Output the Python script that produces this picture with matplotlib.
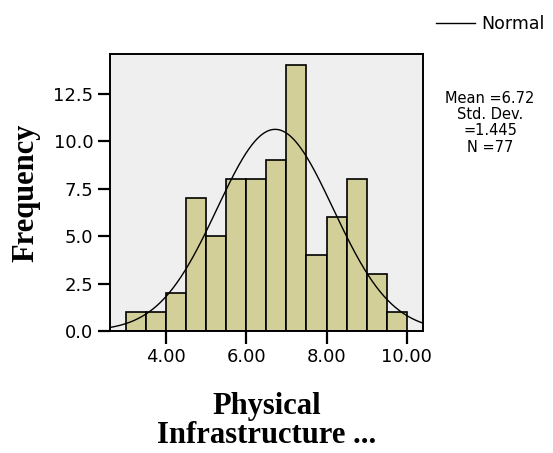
import numpy as np
import matplotlib
matplotlib.use("Agg")
import matplotlib.pyplot as plt

# Histogram data (bin left edges, width 0.5)
bin_edges = [3.0, 3.5, 4.0, 4.5, 5.0, 5.5, 6.0, 6.5, 7.0, 7.5, 8.0, 8.5, 9.0, 9.5, 10.0]
counts = [1, 1, 2, 7, 5, 8, 8, 9, 14, 4, 6, 8, 3, 1]
mean = 6.72
std = 1.445
n = 77
x_ticks = [4.0, 6.0, 8.0, 10.0]
x_tick_labels = ["4.00", "6.00", "8.00", "10.00"]
y_ticks = [0.0, 2.5, 5.0, 7.5, 10.0, 12.5]
y_tick_labels = ["0.0", "2.5", "5.0", "7.5", "10.0", "12.5"]

fig = plt.figure(figsize=(5.53, 4.53), dpi=100)
ax = fig.add_axes([110/553, 1 - 331/453, (423-110)/553, (331-54)/453])
ax.set_facecolor("#efefef")

widths = np.diff(bin_edges)
ax.bar(bin_edges[:-1], counts, width=widths, align="edge",
       color="#d3cf98", edgecolor="black", linewidth=1.2, zorder=2)

xlim = (2.61, 10.4)
xs = np.linspace(xlim[0], xlim[1], 400)
bw = bin_edges[1] - bin_edges[0]
ys = n * bw / (std * np.sqrt(2 * np.pi)) * np.exp(-0.5 * ((xs - mean) / std) ** 2)
line, = ax.plot(xs, ys, color="black", linewidth=1.0, zorder=3)

ax.set_xlim(*xlim)
ax.set_ylim(0, 14.6)
ax.set_xticks(x_ticks)
ax.set_xticklabels(x_tick_labels)
ax.set_yticks(y_ticks)
ax.set_yticklabels(y_tick_labels)
ax.tick_params(axis="both", direction="out", length=9, width=1.6,
               labelsize=13, colors="black", pad=3)
for sp in ax.spines.values():
    sp.set_linewidth(1.4)

serif = ["Liberation Serif", "DejaVu Serif"]
ax.set_ylabel("Frequency", fontsize=22, fontweight="bold", family=serif, labelpad=9)
ax.set_xlabel("Physical\nInfrastructure ...", fontsize=22, fontweight="bold",
              family=serif, labelpad=19, linespacing=0.98)

fig.legend([line], ["Normal"], loc="upper right", bbox_to_anchor=(1.0 + 4/553, 1.0 - 3/453),
           frameon=False, fontsize=12.5, handlelength=2.2, handletextpad=0.4,
           borderaxespad=0.3)

fig.text(490/553, 1 - 91/453, "Mean =6.72\nStd. Dev.\n=1.445\nN =77",
         ha="center", va="top", fontsize=10.5, linespacing=1.1)

fig.savefig("out.png", dpi=100, facecolor="white")
